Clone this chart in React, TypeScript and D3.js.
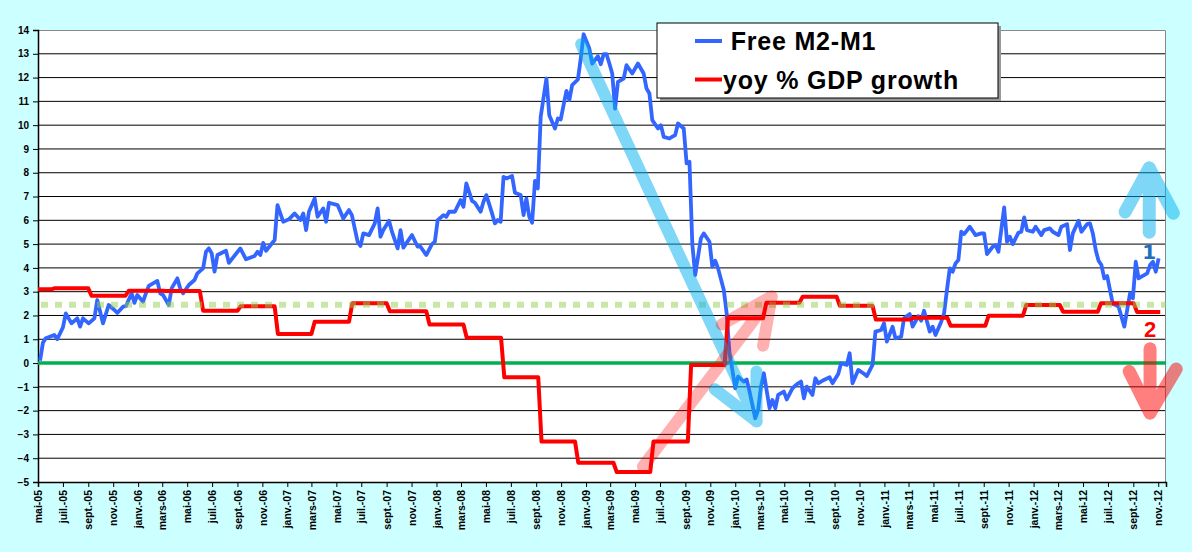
import { useEffect, useRef } from "react";
import * as d3 from "d3";

const WIDTH = 1192;
const HEIGHT = 552;
const margin = { top: 30, right: 26, bottom: 70, left: 38 };

// x axis runs from the first of May 2005 to late Nov 2012
const xStart = "2005-05-01";
const xEnd = "2012-11-20";

// Free M2-M1, weekly: [week number since the week of 2005-05-06, value]
const firstWeek = "2005-05-06";
const freeM2M1: [number, number][] = [
  [0, 0.1], [1, 0.85], [2, 1.04], [5, 1.18], [6, 1.0], [8, 1.5], [9, 2.09], [11, 1.67], [13, 1.88], [14, 1.53],
  [15, 1.88], [17, 1.67], [19, 1.88], [20, 2.65], [22, 1.67], [24, 2.44], [26, 2.23], [27, 2.11], [29, 2.37], [30, 2.39],
  [32, 2.93], [33, 2.53], [34, 2.86], [36, 2.58], [37, 2.93], [38, 3.24], [41, 3.45], [42, 2.93], [43, 2.86], [45, 2.44],
  [46, 3.14], [48, 3.56], [49, 3.14], [50, 2.93], [52, 3.28], [54, 3.49], [55, 3.77], [57, 3.98], [58, 4.68], [59, 4.82],
  [60, 4.61], [61, 3.84], [62, 4.54], [65, 4.72], [66, 4.21], [70, 4.82], [72, 4.36], [75, 4.5], [76, 4.68], [77, 4.54],
  [78, 5.05], [79, 4.72], [82, 5.17], [83, 6.64], [85, 5.94], [87, 6.04], [89, 6.29], [91, 6.01], [92, 6.29], [93, 5.59],
  [94, 6.36], [96, 6.92], [97, 6.15], [99, 6.5], [100, 5.94], [101, 6.74], [104, 6.64], [106, 6.08], [108, 6.43], [109, 6.22],
  [111, 5.1], [112, 4.92], [113, 5.45], [115, 5.38], [117, 5.87], [118, 6.5], [119, 5.31], [120, 5.59], [122, 5.98], [123, 5.52],
  [125, 4.82], [126, 5.59], [127, 4.85], [128, 5.03], [130, 5.38], [132, 4.89], [133, 4.89], [135, 4.54], [137, 5.0], [138, 5.1],
  [139, 6.01], [141, 6.22], [142, 6.15], [143, 6.36], [145, 6.36], [147, 6.85], [148, 6.57], [149, 7.55], [151, 6.82], [152, 6.74],
  [154, 6.36], [155, 6.78], [156, 7.06], [158, 6.29], [159, 5.87], [160, 6.01], [161, 5.94], [162, 7.83], [163, 7.76], [165, 7.86],
  [166, 7.16], [168, 7.06], [169, 6.22], [170, 6.92], [171, 6.15], [172, 5.9], [173, 7.66], [174, 7.34], [175, 10.35], [177, 11.96],
  [178, 10.42], [180, 9.86], [181, 10.28], [182, 10.24], [184, 11.44], [185, 11.05], [186, 11.68], [188, 11.92], [189, 12.8], [190, 13.82],
  [192, 13.22], [193, 12.59], [195, 12.9], [196, 12.56], [197, 12.98], [198, 12.98], [199, 12.59], [200, 12.17], [201, 10.7], [202, 11.82],
  [204, 11.96], [205, 12.52], [207, 12.17], [209, 12.59], [211, 12.17], [212, 11.54], [213, 11.33], [214, 10.21], [216, 9.86], [217, 10.0],
  [218, 9.51], [220, 9.44], [222, 9.58], [223, 10.07], [225, 9.86], [226, 8.39], [227, 8.46], [228, 5.0], [229, 3.7], [231, 5.24],
  [232, 5.45], [234, 5.1], [235, 4.05], [236, 4.3], [237, 3.98], [239, 3.07], [240, 2.09], [241, 0.41], [242, -0.29], [243, -1.06],
  [244, -0.57], [246, -0.78], [247, -0.69], [248, -1.2], [250, -2.32], [251, -1.97], [252, -0.99], [253, -0.43], [255, -1.9], [256, -1.55],
  [257, -1.9], [258, -1.34], [260, -1.2], [261, -1.53], [263, -1.06], [265, -0.85], [266, -0.78], [267, -1.48], [268, -0.99], [270, -1.34],
  [271, -0.64], [272, -0.85], [274, -0.71], [276, -0.6], [277, -0.85], [279, -0.46], [280, -0.01], [282, -0.08], [283, 0.41], [284, -0.85],
  [286, -0.29], [288, -0.45], [289, -0.55], [291, -0.08], [292, 1.32], [294, 1.39], [295, 1.67], [296, 0.9], [298, 1.53], [299, 1.04],
  [301, 1.11], [302, 1.88], [304, 2.06], [305, 1.53], [307, 1.97], [308, 1.78], [309, 2.2], [311, 1.32], [312, 1.53], [313, 1.18],
  [315, 1.74], [316, 2.09], [317, 3.07], [318, 3.98], [319, 3.84], [320, 4.19], [321, 4.33], [322, 5.52], [323, 5.42], [325, 5.73],
  [327, 5.38], [329, 5.45], [330, 5.45], [331, 4.58], [333, 4.89], [334, 4.96], [335, 4.68], [337, 6.54], [338, 5.1], [339, 5.31],
  [340, 5.0], [342, 5.48], [343, 5.52], [344, 6.12], [345, 5.59], [347, 5.52], [348, 5.73], [350, 5.38], [351, 5.59], [353, 5.66],
  [354, 5.52], [356, 5.38], [357, 5.73], [359, 5.84], [360, 4.75], [361, 5.45], [363, 5.98], [364, 5.52], [366, 5.84], [367, 5.87],
  [368, 5.45], [369, 4.75], [370, 4.3], [371, 4.12], [372, 3.56], [373, 3.66], [374, 3.07], [375, 2.48], [376, 2.44], [377, 2.37],
  [378, 1.95], [379, 1.53], [380, 2.23], [381, 2.93], [382, 2.72], [383, 4.26], [384, 3.56], [385, 3.63], [387, 3.77], [388, 4.12],
  [389, 4.26], [390, 3.84], [391, 4.4],
];

// yoy % GDP growth: quarterly figure and the day it comes in
const gdpDates = [
  "2005-05-01", "2005-06-06", "2005-09-05", "2005-12-05", "2006-03-06", "2006-06-05", "2006-09-05", "2006-12-05",
  "2007-03-05", "2007-06-05", "2007-09-05", "2007-12-11", "2008-03-11", "2008-06-11", "2008-09-10", "2008-12-09",
  "2009-03-13", "2009-06-11", "2009-09-11", "2009-12-10", "2010-03-14", "2010-06-11", "2010-09-10", "2010-12-07",
  "2011-03-09", "2011-06-08", "2011-09-09", "2011-12-10", "2012-03-09", "2012-06-10", "2012-09-06",
];
const gdpValues = [
  3.1, 3.14, 2.83, 3.04, 3.03, 2.2, 2.39, 1.22,
  1.74, 2.51, 2.18, 1.62, 1.06, -0.6, -3.3, -4.19,
  -4.58, -3.3, -0.08, 1.88, 2.53, 2.79, 2.41, 1.83,
  1.9, 1.57, 1.99, 2.44, 2.16, 2.51, 2.15,
];
const gdpEnd = "2012-11-06";

// average growth, dotted
const growthAverage = 2.45;

const monthNames = ["janv.", "févr.", "mars", "avr.", "mai", "juin", "juil.", "août", "sept.", "oct.", "nov.", "déc."];
const yTicks = d3.range(-5, 15);

const legendItems = [
  { label: " Free M2-M1", color: "#3366FF" },
  { label: "yoy % GDP growth", color: "#FF0000" },
];

// hand drawn arrows, in chart coordinates
const arrows = [
  { color: "#00B0F0", opacity: 0.5, width: 12,
    shaft: [["2008-12-20", 13.4], ["2010-02-22", -2.45]],
    head: [["2009-11-12", -1.1], ["2010-02-22", -2.45], ["2010-02-22", -0.35]] },
  { color: "#FF0000", opacity: 0.3, width: 12,
    shaft: [["2009-05-20", -4.35], ["2010-03-31", 2.8]],
    head: [["2009-11-29", 1.62], ["2010-03-31", 2.8], ["2010-03-10", 0.73]] },
  { color: "#00B0F0", opacity: 0.5, width: 13,
    shaft: [["2012-10-10", 5.5], ["2012-10-10", 8.2]],
    head: [["2012-08-12", 6.35], ["2012-10-10", 8.2], ["2012-12-08", 6.3]] },
  { color: "#FF0000", opacity: 0.5, width: 13,
    shaft: [["2012-10-12", 0.6], ["2012-10-12", -2.1]],
    head: [["2012-08-22", -0.35], ["2012-10-12", -2.1], ["2012-12-15", -0.25]] },
];

export default function App() {
  const ref = useRef<SVGSVGElement>(null);

  useEffect(() => {
    const svg = d3.select(ref.current);
    svg.selectAll("*").remove();

    const parse = d3.utcParse("%Y-%m-%d");
    const x = d3.scaleUtc()
      .domain([parse(xStart), parse(xEnd)])
      .range([margin.left, WIDTH - margin.right]);
    const y = d3.scaleLinear()
      .domain([-5, 14])
      .range([HEIGHT - margin.bottom, margin.top]);
    const left = margin.left;
    const right = WIDTH - margin.right;
    const top = margin.top;
    const bottom = HEIGHT - margin.bottom;
    const font = "Arial, 'Liberation Sans', sans-serif";

    svg.append("rect").attr("width", WIDTH).attr("height", HEIGHT).attr("fill", "#CCFFFF");
    svg.append("rect")
      .attr("x", left).attr("y", top)
      .attr("width", right - left).attr("height", bottom - top)
      .attr("fill", "#fff");

    // gridlines
    svg.append("g")
      .selectAll("line")
      .data(yTicks.filter(d => d > -5 && d < 14))
      .join("line")
      .attr("x1", left).attr("x2", right)
      .attr("y1", d => y(d)).attr("y2", d => y(d))
      .attr("stroke", "#000").attr("stroke-width", 1);

    // grey border top and right
    svg.append("path")
      .attr("d", `M${left},${top + 0.5}H${right - 0.5}V${bottom}`)
      .attr("fill", "none").attr("stroke", "#888").attr("stroke-width", 1);

    // y axis
    const yAxis = svg.append("g")
      .attr("transform", `translate(${left},0)`)
      .call(d3.axisLeft(y).tickValues(yTicks).tickSize(5).tickPadding(4).tickFormat(d3.format("d")));
    yAxis.select(".domain").attr("stroke", "#000").attr("stroke-width", 1.5);
    yAxis.selectAll("text")
      .attr("font-family", font).attr("font-size", 10).attr("font-weight", "bold").attr("fill", "#000");

    // x axis
    const xTicks = d3.utcMonth.every(2)!.range(parse(xStart)!, parse(xEnd)!);
    const xAxis = svg.append("g")
      .attr("transform", `translate(0,${bottom})`)
      .call(d3.axisBottom(x).tickValues(xTicks).tickSize(5)
        .tickFormat(d => `${monthNames[(d as Date).getUTCMonth()]}-${d3.utcFormat("%y")(d as Date)}`));
    xAxis.select(".domain").attr("stroke", "#000").attr("stroke-width", 1.5);
    xAxis.selectAll("text")
      .attr("font-family", font).attr("font-size", 10.5).attr("font-weight", "bold").attr("fill", "#000")
      .attr("text-anchor", "end")
      .attr("transform", "rotate(-90)")
      .attr("x", -8).attr("y", 0).attr("dy", "0.35em");

    // zero line
    svg.append("line")
      .attr("x1", left).attr("x2", right)
      .attr("y1", y(0)).attr("y2", y(0))
      .attr("stroke", "#00B050").attr("stroke-width", 3.5);

    // Free M2-M1
    const week0 = parse(firstWeek)!;
    const blueLine = d3.line<[number, number]>()
      .x(d => x(d3.utcDay.offset(week0, d[0] * 7)))
      .y(d => y(d[1]));
    svg.append("path")
      .datum(freeM2M1)
      .attr("fill", "none")
      .attr("stroke", "#3366FF")
      .attr("stroke-width", 3.8)
      .attr("stroke-linejoin", "round")
      .attr("d", blueLine);

    // GDP growth steps
    const gdpPoints: [Date, number][] = [];
    gdpValues.forEach((v, i) => {
      const start = i === 0 ? parse(gdpDates[0])! : d3.utcDay.offset(parse(gdpDates[i])!, 4);
      const end = i === gdpValues.length - 1 ? parse(gdpEnd)! : d3.utcDay.offset(parse(gdpDates[i + 1])!, -4);
      gdpPoints.push([start, v], [end, v]);
    });
    svg.append("path")
      .datum(gdpPoints)
      .attr("fill", "none")
      .attr("stroke", "#FF0000")
      .attr("stroke-width", 4)
      .attr("stroke-linejoin", "round")
      .attr("d", d3.line<[Date, number]>().x(d => x(d[0])).y(d => y(d[1])));

    // average growth
    svg.append("line")
      .attr("x1", left + 3).attr("x2", right)
      .attr("y1", y(growthAverage)).attr("y2", y(growthAverage))
      .attr("stroke", "#92D050").attr("stroke-opacity", 0.5)
      .attr("stroke-width", 6).attr("stroke-dasharray", "7 7");

    // arrows
    const pt = d3.line<(string | number)[]>()
      .x(d => x(parse(d[0] as string)!))
      .y(d => y(d[1] as number));
    arrows.forEach(a => {
      const g = svg.append("g").attr("opacity", a.opacity);
      [a.shaft, a.head].forEach(p => {
        g.append("path")
          .attr("d", pt(p))
          .attr("fill", "none")
          .attr("stroke", a.color)
          .attr("stroke-width", a.width)
          .attr("stroke-linecap", "round")
          .attr("stroke-linejoin", "round");
      });
    });

    // labels 1 and 2
    svg.append("text")
      .attr("x", x(parse("2012-10-10")!)).attr("y", y(4.37))
      .attr("text-anchor", "middle")
      .attr("font-family", "'DejaVu Sans', sans-serif").attr("font-weight", "bold").attr("font-size", 20)
      .attr("fill", "#1F6FC0")
      .text("1");
    svg.append("text")
      .attr("x", x(parse("2012-10-12")!)).attr("y", y(1.08))
      .attr("text-anchor", "middle")
      .attr("font-family", font).attr("font-weight", "bold").attr("font-size", 22)
      .attr("fill", "#FF0000")
      .text("2");

    // legend
    const legend = svg.append("g").attr("transform", "translate(657,23)");
    legend.append("rect")
      .attr("x", 3).attr("y", 3).attr("width", 341).attr("height", 75)
      .attr("fill", "#999");
    legend.append("rect")
      .attr("width", 341).attr("height", 75)
      .attr("fill", "#fff").attr("stroke", "#000").attr("stroke-width", 1);
    legendItems.forEach((item, i) => {
      const row = legend.append("g").attr("transform", `translate(0,${18 + i * 38.5})`);
      row.append("line")
        .attr("x1", 38).attr("x2", 65)
        .attr("stroke", item.color).attr("stroke-width", 4);
      row.append("text")
        .attr("x", 66).attr("y", 0).attr("dy", "0.36em")
        .attr("font-family", font).attr("font-weight", "bold").attr("font-size", 25)
        .attr("letter-spacing", 0.8)
        .attr("fill", "#000")
        .style("white-space", "pre")
        .text(item.label);
    });
  }, []);

  return (
    <svg
      ref={ref}
      width={WIDTH}
      height={HEIGHT}
      style={{ position: "absolute", left: 0, top: 0 }}
    />
  );
}
